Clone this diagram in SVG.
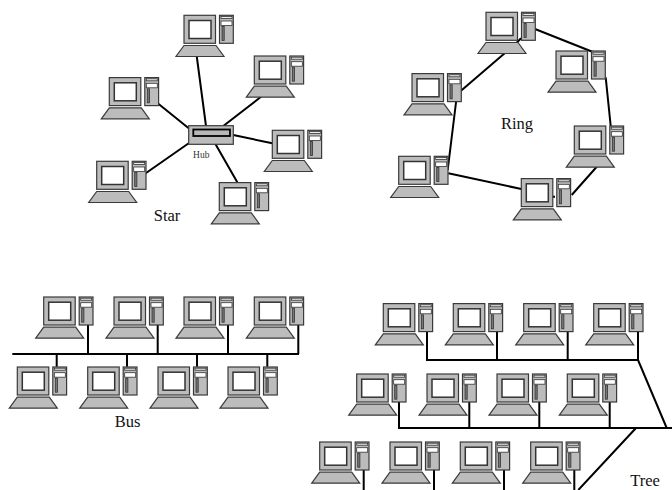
<svg xmlns="http://www.w3.org/2000/svg" width="672" height="490" viewBox="0 0 672 490">
<style>
.s{fill:#bcbcbc;stroke:#3a3a3a;stroke-width:1.2}
.w{fill:#fff;stroke:#333;stroke-width:1.5}
.c{fill:none;stroke:#000;stroke-width:2;stroke-linecap:butt}
.t{font-family:"Liberation Serif",serif;font-size:16.5px;fill:#111;text-anchor:middle}
</style>
<defs>
<g id="pc">
<rect class="s" x="0" y="0.3" width="31.5" height="28"/>
<rect class="w" x="5" y="5.5" width="22" height="18"/>
<rect class="s" x="35.5" y="0.3" width="13.8" height="28"/>
<rect x="37" y="1.5" width="11" height="2" fill="#eee" stroke="#333" stroke-width=".8"/>
<rect x="37" y="6" width="11" height="4.5" fill="#fff" stroke="#333" stroke-width=".8"/>
<rect x="38" y="11.5" width="2.2" height="14" fill="#777" stroke="#333" stroke-width=".8"/>
<polygon class="s" points="0,30.5 32,30.5 40,41.5 -8,41.5"/>
</g>
</defs>
<g id="connectors">
<path class="c" d="M196.7 56L206 126M263.3 95L223.3 126M157.7 103.3L188.7 128.3M233.3 135L272.3 143.3M145.7 173.3L188.7 143.3M215 143.3L237.3 182.3"/>
<path class="c" d="M535 29L592.3 51.7M605.7 77.3L610.7 126M598.3 165L571.7 195M555 196.7L552 196.7M448.3 173.3L521.3 189M456.3 100L447.7 170M461 90.7L507.3 51M521 38.3L516.7 42.7"/>
<path class="c" d="M12.3 354H299M88 321.7V354M157.7 321.7V354M228 321.7V354M298.3 321.7V354M56.7 354V366.7M127 354V366.7M197 354V366.7M267.3 354V366.7"/>
<path class="c" d="M427 330V360H638M497 330V360M567.7 330V360M638 330V360L666.7 428M399 401V428H672M469.3 401V428M539.3 401V428M609.7 401V428M636 428L578.3 490M363.7 469V490M434 469V490M504 469V490M574.3 469V490"/>
</g>
<g id="hub">
<rect class="s" x="188.7" y="125.7" width="44.6" height="18.6"/>
<rect x="193.3" y="129.5" width="36.7" height="6.5" fill="#b8b8b8" stroke="#000" stroke-width="1.8"/>
<text x="201.3" y="157.7" font-family="'Liberation Serif',serif" font-size="9.5" fill="#333" text-anchor="middle">Hub</text>
</g>
<g id="star-1"><use href="#pc" x="184" y="15"/></g>
<g id="star-2"><use href="#pc" x="254.3" y="55.7"/></g>
<g id="star-3"><use href="#pc" x="109.3" y="77.3"/></g>
<g id="star-4"><use href="#pc" x="272.3" y="130"/></g>
<g id="star-5"><use href="#pc" x="96.7" y="161"/></g>
<g id="star-6"><use href="#pc" x="219.3" y="182.3"/></g>
<g id="ring-1"><use href="#pc" x="486" y="12"/></g>
<g id="ring-2"><use href="#pc" x="556" y="50.7"/></g>
<g id="ring-3"><use href="#pc" x="574.3" y="125.7"/></g>
<g id="ring-4"><use href="#pc" x="521.3" y="178.3"/></g>
<g id="ring-5"><use href="#pc" x="398.7" y="156"/></g>
<g id="ring-6"><use href="#pc" x="412" y="73.3"/></g>
<g id="bus-1"><use href="#pc" x="43.7" y="296.7"/></g>
<g id="bus-2"><use href="#pc" x="114" y="296.7"/></g>
<g id="bus-3"><use href="#pc" x="184" y="296.7"/></g>
<g id="bus-4"><use href="#pc" x="254.3" y="296.7"/></g>
<g id="bus-5"><use href="#pc" x="17.3" y="366.7"/></g>
<g id="bus-6"><use href="#pc" x="87.7" y="366.7"/></g>
<g id="bus-7"><use href="#pc" x="158" y="366.7"/></g>
<g id="bus-8"><use href="#pc" x="228" y="366.7"/></g>
<g id="tree-1"><use href="#pc" x="383.3" y="303.3"/></g>
<g id="tree-2"><use href="#pc" x="453.3" y="303.3"/></g>
<g id="tree-3"><use href="#pc" x="523.7" y="303.3"/></g>
<g id="tree-4"><use href="#pc" x="593.7" y="303.3"/></g>
<g id="tree-5"><use href="#pc" x="356.7" y="373.7"/></g>
<g id="tree-6"><use href="#pc" x="427" y="373.7"/></g>
<g id="tree-7"><use href="#pc" x="497" y="373.7"/></g>
<g id="tree-8"><use href="#pc" x="567.3" y="373.7"/></g>
<g id="tree-9"><use href="#pc" x="319.7" y="441.7"/></g>
<g id="tree-10"><use href="#pc" x="390" y="441.7"/></g>
<g id="tree-11"><use href="#pc" x="460.3" y="441.7"/></g>
<g id="tree-12"><use href="#pc" x="530.7" y="441.7"/></g>
<text class="t" x="167" y="221">Star</text>
<text class="t" x="517" y="129">Ring</text>
<text class="t" x="127.5" y="426.5">Bus</text>
<text class="t" x="645" y="485.5">Tree</text>
</svg>
